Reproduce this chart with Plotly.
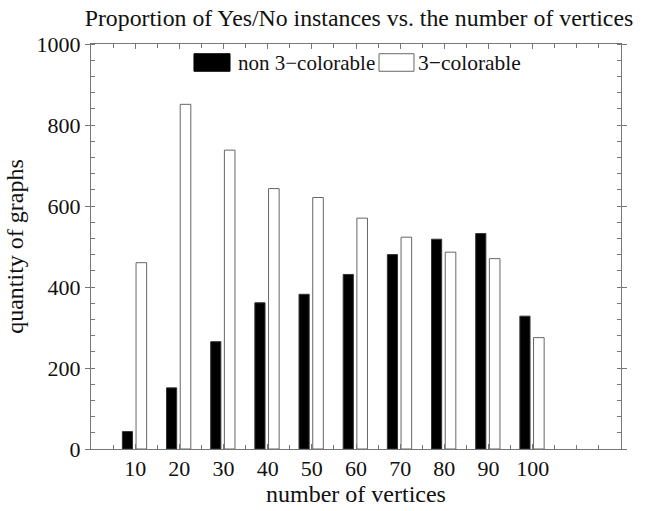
import plotly.graph_objects as go

vertices = [10, 20, 30, 40, 50, 60, 70, 80, 90, 100]
non_colorable = [43, 151, 265, 361, 382, 431, 480, 518, 532, 328]
colorable = [460, 851, 738, 643, 621, 570, 523, 486, 470, 275]
tick_labels = [str(v) for v in vertices]

FONT = "Liberation Serif"
AX = "#777777"

fig = go.Figure()
fig.add_trace(go.Bar(
    x=vertices, y=non_colorable, name="non 3−colorable",
    width=2.3, offset=-2.9,
    marker=dict(color="black", line=dict(color="#333333", width=1)),
))
fig.add_trace(go.Bar(
    x=vertices, y=colorable, name="3−colorable",
    width=2.4, offset=0.2,
    marker=dict(color="white", line=dict(color="#666666", width=1)),
))

# legend drawn as boxes + text to mimic the original wide swatches
fig.add_shape(type="rect", xref="paper", yref="paper",
              x0=0.1943, x1=0.2623, y0=0.9327, y1=0.976,
              fillcolor="black", line=dict(color="black", width=1))
fig.add_shape(type="rect", xref="paper", yref="paper",
              x0=0.5434, x1=0.6094, y0=0.9327, y1=0.976,
              fillcolor="white", line=dict(color="#666666", width=1))
fig.add_annotation(text="non 3−colorable", xref="paper", yref="paper",
                   x=0.2736, y=0.954, xanchor="left", yanchor="middle",
                   showarrow=False, font=dict(family=FONT, size=21, color="#111"))
fig.add_annotation(text="3−colorable", xref="paper", yref="paper",
                   x=0.613, y=0.954, xanchor="left", yanchor="middle",
                   showarrow=False, font=dict(family=FONT, size=21.5, color="#111"))

fig.update_layout(
    width=648, height=511,
    margin=dict(l=91, r=27, t=44, b=51),
    paper_bgcolor="white", plot_bgcolor="white",
    showlegend=False,
    font=dict(family=FONT, size=22, color="#111"),
    title=dict(text="Proportion of Yes/No instances vs. the number of vertices",
               x=0.554, xanchor="center", y=0.965, yanchor="middle",
               font=dict(family=FONT, size=23.8, color="#111")),
    xaxis=dict(
        range=[0, 120], tickvals=vertices, ticktext=tick_labels,
        ticks="inside", ticklen=5, tickcolor=AX,
        minor=dict(dtick=5, tick0=0, ticks="inside", ticklen=4, tickcolor=AX),
        showline=True, linecolor=AX, mirror="ticks", linewidth=1,
        showgrid=False, zeroline=False,
        tickfont=dict(family=FONT, size=22),
        title=dict(text="number of vertices", standoff=1,
                   font=dict(family=FONT, size=24)),
    ),
    yaxis=dict(
        range=[0, 1000], dtick=200,
        ticks="outside", ticklen=5, tickcolor=AX,
        minor=dict(dtick=40, ticks="inside", ticklen=4, tickcolor=AX),
        showline=True, linecolor=AX, mirror="ticks", linewidth=1,
        showgrid=False, zeroline=False,
        tickfont=dict(family=FONT, size=22),
        title=dict(text="quantity of graphs", standoff=6,
                   font=dict(family=FONT, size=24)),
    ),
)

fig.write_html("out.html")
